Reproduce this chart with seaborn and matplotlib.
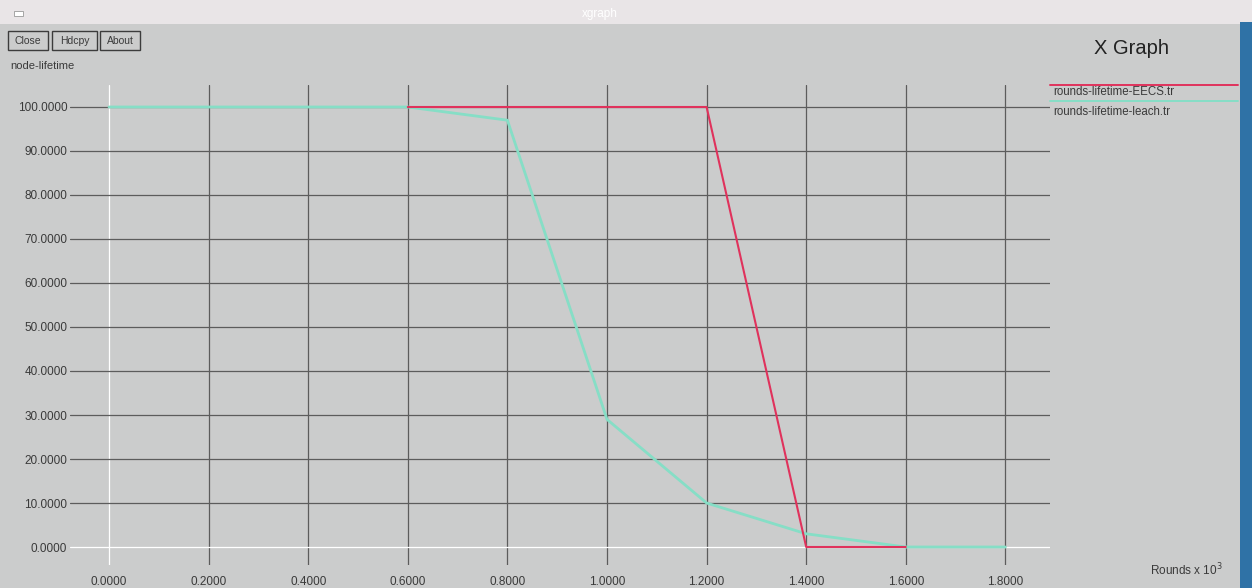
import matplotlib
matplotlib.use("Agg")
import matplotlib.pyplot as plt
from matplotlib.lines import Line2D
from matplotlib.patches import Rectangle
import pandas as pd
import seaborn as sns

# rounds (x 10^3) and node lifetime for the two trace files
eecs_rounds = [0.6, 0.8, 1.0, 1.2, 1.4, 1.6]
eecs_lifetime = [100, 100, 100, 100, 0, 0]
leach_rounds = [0.0, 0.2, 0.4, 0.6, 0.8, 1.0, 1.2, 1.4, 1.6, 1.8]
leach_lifetime = [100, 100, 100, 100, 97, 29, 10, 3, 0, 0]

x_ticks = [0.0, 0.2, 0.4, 0.6, 0.8, 1.0, 1.2, 1.4, 1.6, 1.8]
y_ticks = [0, 10, 20, 30, 40, 50, 60, 70, 80, 90, 100]
series_names = ["rounds-lifetime-EECS.tr", "rounds-lifetime-leach.tr"]

df = pd.concat([
    pd.DataFrame({"rounds": eecs_rounds, "lifetime": eecs_lifetime, "trace": series_names[0]}),
    pd.DataFrame({"rounds": leach_rounds, "lifetime": leach_lifetime, "trace": series_names[1]}),
])

BG = "#cbcccc"
RED = "#e0325c"
CYAN = "#86dec6"
GRID = "#5c5c5c"
TXT = "#3a3a3a"

sns.set_style("white")
plt.rcParams["font.family"] = ["Liberation Sans", "DejaVu Sans"]

W, H = 1252, 588
fig = plt.figure(figsize=(W / 100, H / 100), dpi=100)
fig.patch.set_facecolor(BG)

# title bar and window edge
fig.patches.append(Rectangle((0, 1 - 24 / H), 1, 24 / H, transform=fig.transFigure,
                             facecolor="#e9e5e7", edgecolor="none", zorder=0))
fig.patches.append(Rectangle((14 / W, 1 - 16 / H), 9 / W, 5 / H, transform=fig.transFigure,
                             facecolor="white", edgecolor="#999999", lw=0.6, zorder=1))
fig.text(600 / W, 1 - 14 / H, "xgraph", color="white", fontsize=8.5, ha="center", va="center")
fig.patches.append(Rectangle((1240 / W, 0), 12 / W, 1 - 22 / H, transform=fig.transFigure,
                             facecolor="#2f72a6", edgecolor="none", zorder=1))

# buttons
for label, x0, x1 in [("Close", 8, 48), ("Hdcpy", 52, 97), ("About", 100, 140)]:
    fig.patches.append(Rectangle((x0 / W, 1 - 50 / H), (x1 - x0) / W, 19 / H,
                                 transform=fig.transFigure, facecolor="none",
                                 edgecolor="#3c3c3c", lw=1.0, zorder=2))
    fig.text((x0 + x1) / 2 / W, 1 - 41 / H, label, color=TXT, fontsize=7.5,
             ha="center", va="center")
fig.text(10 / W, 1 - 66 / H, "node-lifetime", color=TXT, fontsize=8, ha="left", va="center")

# plotting area: x 0..1.8 -> px 109..1005, y 0..100 -> px 547..107
px_x = 498.0
px_y = 4.4
left, right, top, bottom = 70, 1050, 85, 565
ax = fig.add_axes([left / W, 1 - bottom / H, (right - left) / W, (bottom - top) / H])
ax.set_facecolor(BG)
ax.set_xlim((left - 109) / px_x, (right - 109) / px_x)
ax.set_ylim((547 - bottom) / px_y, (547 - top) / px_y)
for s in ax.spines.values():
    s.set_visible(False)

for xv in x_ticks:
    ax.axvline(xv, color="white" if xv == 0 else GRID, lw=0.9, zorder=1)
for yv in y_ticks:
    ax.axhline(yv, color="white" if yv == 0 else GRID, lw=0.9, zorder=1)

sns.lineplot(data=df[df.trace == series_names[1]], x="rounds", y="lifetime",
             color=CYAN, lw=2.0, ax=ax, legend=False, zorder=3)
sns.lineplot(data=df[df.trace == series_names[0]], x="rounds", y="lifetime",
             color=RED, lw=1.5, ax=ax, legend=False, zorder=4)

ax.set_xticks(x_ticks)
ax.set_yticks(y_ticks)
ax.set_xticklabels([f"{v:.4f}" for v in x_ticks])
ax.set_yticklabels([f"{v:.4f}" for v in y_ticks])
ax.tick_params(axis="both", length=0, labelsize=8.5, labelcolor=TXT)
ax.tick_params(axis="x", pad=8)
ax.tick_params(axis="y", pad=2)
ax.set_xlabel("")
ax.set_ylabel("")

fig.text(1150 / W, 1 - 570 / H, r"Rounds x 10$^3$", color=TXT, fontsize=8.5,
         ha="left", va="center")

# legend block
fig.text(1131 / W, 1 - 48 / H, "X Graph", color="#222222", fontsize=14.5,
         ha="center", va="center")
for name, col, ly, ty in [(series_names[0], RED, 85, 92), (series_names[1], CYAN, 101, 112)]:
    fig.lines.append(Line2D([1050 / W, 1238 / W], [1 - ly / H, 1 - ly / H],
                            transform=fig.transFigure, color=col, lw=1.4))
    fig.text(1053 / W, 1 - ty / H, name, color=TXT, fontsize=8.3, ha="left", va="center")

fig.savefig("out.png", dpi=100, facecolor=BG)
